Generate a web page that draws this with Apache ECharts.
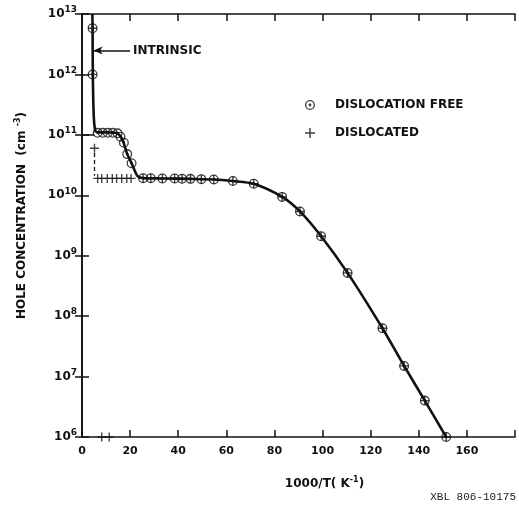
<!DOCTYPE html>
<html>
<head>
<meta charset="utf-8">
<script src="https://cdn.jsdelivr.net/npm/echarts@6/dist/echarts.min.js"></script>
<style>
  html, body { margin: 0; padding: 0; background: #fff; }
  #chart { width: 519px; height: 509px; }
</style>
</head>
<body>
<div id="chart"></div>
<script>
// values: x = 1000/T (K^-1), y = hole concentration (cm^-3)
var freeX = [4.4, 4.4, 6.5, 8.6, 10.7, 12.8, 14.8, 16.0, 17.4, 18.8, 20.6,
  25.4, 28.6, 33.4, 38.5, 41.6, 45.1, 49.6, 54.8, 62.7, 71.4, 83.2, 90.6,
  99.4, 110.4, 124.9, 133.9, 142.5, 151.4];
var freeY = [5.8e12, 1.0e12, 1.08e11, 1.08e11, 1.08e11, 1.08e11, 1.06e11,
  9.3e10, 7.4e10, 4.8e10, 3.4e10,
  1.92e10, 1.92e10, 1.9e10, 1.9e10, 1.88e10, 1.87e10, 1.85e10, 1.83e10,
  1.72e10, 1.55e10, 9.4e9, 5.4e9, 2.1e9, 5.2e8, 6.3e7, 1.5e7, 4.0e6, 1.0e6];

var dislX = [4.4, 4.4, 5.2, 6.5, 8.2, 10.5, 12.6, 14.4, 16.5, 18.6, 20.4,
  25.4, 28.6, 33.4, 38.5, 41.6, 45.1, 49.6, 54.8, 62.7, 71.4, 83.2, 90.6,
  99.4, 110.4, 124.9, 133.9, 142.5, 151.4, 8.2, 11.3];
var dislY = [5.8e12, 1.0e12, 6.0e10, 1.9e10, 1.9e10, 1.9e10, 1.9e10, 1.9e10,
  1.9e10, 1.9e10, 1.9e10,
  1.92e10, 1.92e10, 1.9e10, 1.9e10, 1.88e10, 1.87e10, 1.85e10, 1.83e10,
  1.72e10, 1.55e10, 9.4e9, 5.4e9, 2.1e9, 5.2e8, 6.3e7, 1.5e7, 4.0e6, 1.0e6,
  1.0e6, 1.0e6];

// the hand drawn curve
var curveX = [4.3, 4.4, 4.5, 4.9, 5.6, 7.0, 10.7, 14.0, 15.5, 17.0, 18.8,
  20.6, 23.0, 25.4, 33.4, 45.1, 54.8, 62.7, 71.4, 83.2, 90.6, 99.4, 110.4,
  124.9, 133.9, 142.5, 151.4];
var curveY = [1e13, 5.8e12, 1.0e12, 2.0e11, 1.15e11, 1.1e11, 1.1e11, 1.08e11,
  1.0e11, 8.0e10, 4.8e10, 3.4e10, 2.1e10, 1.92e10, 1.9e10, 1.87e10, 1.83e10,
  1.72e10, 1.55e10, 9.4e9, 5.4e9, 2.1e9, 5.2e8, 6.3e7, 1.5e7, 4.0e6, 1.0e6];

var xTicks = { min: 0, max: 180, interval: 20 };
var yRange = { min: 1e6, max: 1e13 };

function zip(xs, ys) {
  return xs.map(function (x, i) { return [x, ys[i]]; });
}

var ink = '#111';
var font = 'DejaVu Sans';
var ringDot = 'path://M10,0A10,10,0,1,1,10,20A10,10,0,1,1,10,0Z' +
  'M10,2.6A7.4,7.4,0,1,0,10,17.4A7.4,7.4,0,1,0,10,2.6Z' +
  'M10,7.2A2.8,2.8,0,1,1,10,12.8A2.8,2.8,0,1,1,10,7.2Z';
var plus = 'path://M4.25,0H5.75V4.25H10V5.75H5.75V10H4.25V5.75H0V4.25H4.25Z';

var chart = echarts.init(document.getElementById('chart'));

var tickStyle = { show: true, inside: true, length: 7, lineStyle: { color: ink, width: 1.5 } };
var lineStyle = { show: true, lineStyle: { color: ink, width: 1.6 } };

chart.setOption({
  animation: false,
  backgroundColor: '#fff',
  grid: { left: 82, right: 4, top: 14, bottom: 72 },
  legend: {
    data: ['DISLOCATION FREE', 'DISLOCATED'],
    orient: 'vertical',
    left: 300,
    top: 94,
    itemWidth: 40,
    itemHeight: 10,
    itemGap: 16,
    selectedMode: false,
    textStyle: { fontFamily: font, fontWeight: 'bold', fontSize: 12, color: ink }
  },
  xAxis: [{
    type: 'value',
    min: xTicks.min, max: xTicks.max, interval: xTicks.interval,
    name: '{a|1000/T( K}{s|-1}{a|)}',
    nameLocation: 'middle',
    nameGap: 39,
    nameTextStyle: {
      padding: [0, 0, 0, 52],
      rich: {
        a: { fontFamily: font, fontWeight: 'bold', fontSize: 12, color: ink },
        s: { fontFamily: font, fontWeight: 'bold', fontSize: 8, color: ink, padding: [0, 0, 8, 0] }
      }
    },
    axisLine: lineStyle,
    axisTick: tickStyle,
    splitLine: { show: false },
    axisLabel: {
      margin: 9,
      fontFamily: font, fontWeight: 'bold', fontSize: 11, color: ink,
      formatter: function (v) { return v === 180 ? '' : String(v); }
    }
  }, {
    type: 'value', position: 'top',
    min: xTicks.min, max: xTicks.max, interval: xTicks.interval,
    axisLine: lineStyle, axisTick: tickStyle,
    axisLabel: { show: false }, splitLine: { show: false }
  }],
  yAxis: [{
    type: 'log', logBase: 10,
    min: yRange.min, max: yRange.max,
    name: '{a|HOLE CONCENTRATION  (cm }{s|-3}{a|)}',
    nameLocation: 'middle',
    nameGap: 52,
    nameTextStyle: {
      padding: [0, 0, 0, 20],
      rich: {
        a: { fontFamily: font, fontWeight: 'bold', fontSize: 12, color: ink },
        s: { fontFamily: font, fontWeight: 'bold', fontSize: 8, color: ink, padding: [0, 0, 8, 0] }
      }
    },
    axisLine: lineStyle,
    axisTick: tickStyle,
    splitLine: { show: false },
    minorTick: { show: false },
    axisLabel: {
      margin: 5,
      formatter: function (v) {
        return '{b|10}{s|' + Math.round(Math.log10(v)) + '}';
      },
      rich: {
        b: { fontFamily: font, fontWeight: 'bold', fontSize: 12, color: ink },
        s: { fontFamily: font, fontWeight: 'bold', fontSize: 9, color: ink, padding: [0, 0, 8, 0] }
      }
    }
  }, {
    type: 'log', logBase: 10, position: 'right',
    min: yRange.min, max: yRange.max,
    axisLine: lineStyle, axisTick: tickStyle,
    axisLabel: { show: false }, splitLine: { show: false }
  }],
  series: [{
    name: 'curve',
    type: 'line',
    data: zip(curveX, curveY),
    smooth: 0.25,
    showSymbol: false,
    lineStyle: { color: ink, width: 2.6 },
    z: 2,
    markLine: {
      silent: true,
      symbol: ['none', 'arrow'],
      symbolSize: [6, 9],
      data: [
        [{ coord: [20, 2.5e12] }, { coord: [4.8, 2.5e12] }],
        [{ coord: [0, 1.0e11], symbol: 'none', label: { show: false } },
         { coord: [5.2, 1.0e11], symbol: 'none' }]
      ],
      lineStyle: { color: ink, width: 1.5, type: 'solid' },
      label: {
        show: true, position: 'start', distance: 3,
        formatter: 'INTRINSIC',
        fontFamily: font, fontWeight: 'bold', fontSize: 12, color: ink
      }
    }
  }, {
    name: 'DISLOCATION FREE',
    type: 'scatter',
    data: zip(freeX, freeY),
    symbol: ringDot,
    symbolSize: 10,
    itemStyle: { color: ink },
    z: 3
  }, {
    name: 'DISLOCATED',
    type: 'scatter',
    data: zip(dislX, dislY),
    symbol: plus,
    symbolSize: 9,
    itemStyle: { color: ink },
    z: 4,
    markLine: {
      silent: true,
      symbol: 'none',
      data: [[{ coord: [5.2, 5.0e10] }, { coord: [5.2, 2.1e10] }]],
      lineStyle: { color: ink, width: 1.3, type: [4, 3] },
      label: { show: false }
    }
  }],
  graphic: [{
    type: 'text',
    right: 3,
    top: 492,
    style: { text: 'XBL 806-10175', font: '11px "Liberation Mono"', fill: '#222' }
  }]
});
</script>
</body>
</html>
